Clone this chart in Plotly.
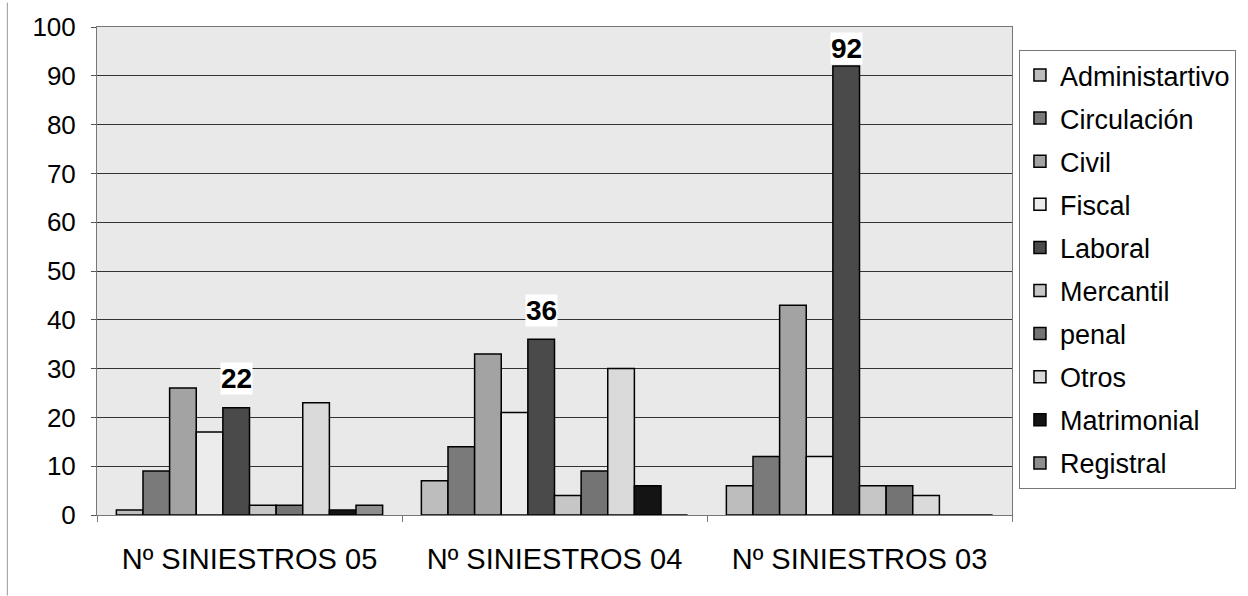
import plotly.graph_objects as go

categories = ["Nº SINIESTROS 05", "Nº SINIESTROS 04", "Nº SINIESTROS 03"]
series_names = ["Administartivo", "Circulación", "Civil", "Fiscal", "Laboral",
                "Mercantil", "penal", "Otros", "Matrimonial", "Registral"]
administrativo = [1, 7, 6]
circulacion = [9, 14, 12]
civil = [26, 33, 43]
fiscal = [17, 21, 12]
laboral = [22, 36, 92]
mercantil = [2, 4, 6]
penal = [2, 9, 6]
otros = [23, 30, 4]
matrimonial = [1, 6, 0]
registral = [2, 0, 0]
series_values = [administrativo, circulacion, civil, fiscal, laboral,
                 mercantil, penal, otros, matrimonial, registral]
labeled_series = "Laboral"
y_ticks = [0, 10, 20, 30, 40, 50, 60, 70, 80, 90, 100]

colors = ["#bdbdbd", "#7a7a7a", "#a3a3a3", "#ececec", "#4a4a4a",
          "#c6c6c6", "#747474", "#dadada", "#141414", "#8e8e8e"]

FONT = "Liberation Sans, Arial"

fig = go.Figure()
for i, (name, vals) in enumerate(zip(series_names, series_values)):
    fig.add_trace(go.Bar(
        x=categories, y=vals, name=name, legendgroup=name,
        marker=dict(color=colors[i], line=dict(color="black", width=1.5)),
        offsetgroup=str(i)))

# value labels above the Laboral bars (5th of 10 bars in each group)
lab_idx = series_names.index(labeled_series)
for cat, v in zip(categories, series_values[lab_idx]):
    fig.add_annotation(x=cat, y=min(v + 6, 95.6), text=f"<b>{v}</b>",
                       showarrow=False, xshift=-13, yanchor="middle",
                       font=dict(family=FONT, size=28, color="black"),
                       bgcolor="white", borderpad=0)

fig.update_layout(
    width=1248, height=596,
    margin=dict(l=97, r=233, t=24, b=81),
    paper_bgcolor="white", plot_bgcolor="#e9e9e9",
    barmode="group", bargap=0.127, bargroupgap=0,
    font=dict(family=FONT, size=26, color="black"),
    legend=dict(x=1.0076, xanchor="left", y=0.953, yanchor="top",
                bordercolor="#777", borderwidth=1, bgcolor="white",
                font=dict(size=27), tracegroupgap=5, itemwidth=30),
    showlegend=True,
)
fig.update_yaxes(range=[0, 100], tickvals=y_ticks, showgrid=True,
                 gridcolor="#333", gridwidth=1, ticks="outside", ticklen=5,
                 tickcolor="#555", showline=True, linecolor="#777", mirror=True,
                 zeroline=False, tickfont=dict(size=26), ticklabelstandoff=10)
fig.update_xaxes(showline=True, linecolor="#777", mirror=True, ticks="outside",
                 tickson="boundaries", ticklen=6, tickcolor="#777",
                 tickfont=dict(size=29), ticklabelstandoff=18)
fig.add_shape(type="line", xref="paper", yref="paper",
              x0=-0.098, x1=-0.098, y0=-0.165, y1=1.05,
              line=dict(color="#999", width=1))
fig.write_html("out.html", config={"displayModeBar": False},
               post_script="document.body.style.margin='0';")
